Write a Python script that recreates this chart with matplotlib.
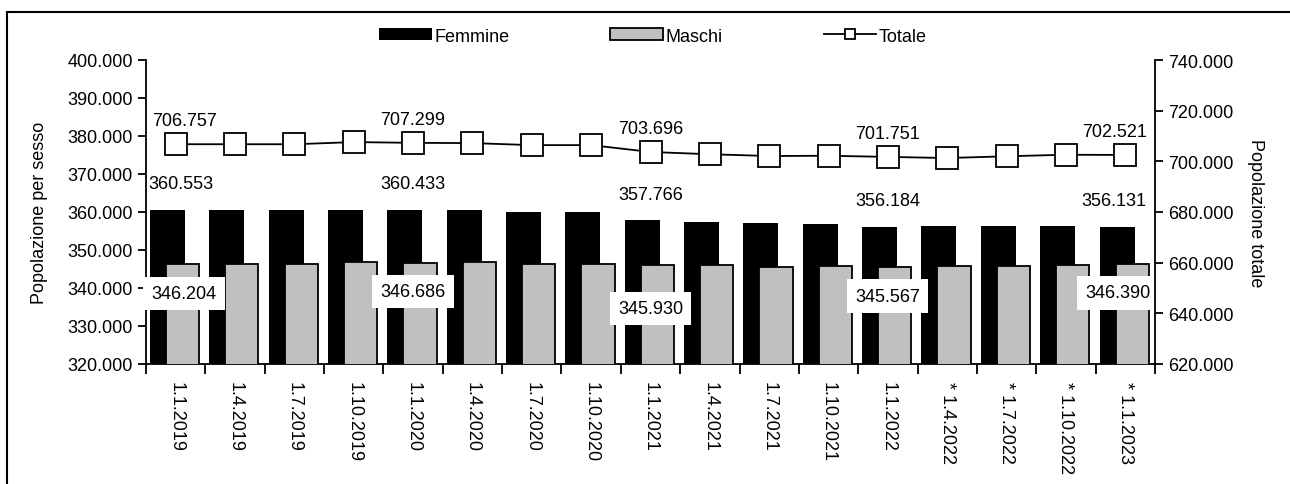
import numpy as np
import matplotlib
matplotlib.use("Agg")
import matplotlib.pyplot as plt
from matplotlib.ticker import FuncFormatter, MultipleLocator
from matplotlib.patches import Rectangle

plt.rcParams['font.family'] = ['Liberation Sans', 'DejaVu Sans']
plt.rcParams['font.size'] = 13

# dati
date = ["1.1.2019", "1.4.2019", "1.7.2019", "1.10.2019",
        "1.1.2020", "1.4.2020", "1.7.2020", "1.10.2020",
        "1.1.2021", "1.4.2021", "1.7.2021", "1.10.2021",
        "1.1.2022", "* 1.4.2022", "* 1.7.2022", "* 1.10.2022", "* 1.1.2023"]
femmine = [360553, 360550, 360540, 360530, 360433, 360500, 360100, 360100,
           357766, 357400, 357000, 356900, 356184, 356200, 356200, 356200, 356131]
maschi = [346204, 346200, 346200, 346800, 346686, 346750, 346300, 346200,
          345930, 345950, 345400, 345800, 345567, 345700, 345700, 346100, 346390]
totale = [706757, 706750, 706740, 707600, 707299, 707200, 706400, 706400,
          703696, 702800, 702100, 702200, 701751, 701300, 702000, 702600, 702521]
etichette = [0, 4, 8, 12, 16]  # punti con etichetta


def it_fmt(v, pos=None):
    return f"{v:,.0f}".replace(",", ".")


fig = plt.figure(figsize=(12.9, 4.85), dpi=100)
ax = fig.add_axes([146 / 1290, 1 - 365 / 485, (1155 - 146) / 1290, (365 - 61) / 485])
ax2 = ax.twinx()

n = len(date)
x = np.arange(n) + 0.5
ax.bar(x - 0.14, femmine, width=0.59, color="black", label="Femmine", zorder=2)
ax.bar(x + 0.115, maschi, width=0.56, color="#c0c0c0", edgecolor="black",
       linewidth=1.3, label="Maschi", zorder=3)
ax2.plot(x, totale, color="black", lw=1.3, marker="s", ms=16,
         mfc="white", mec="black", mew=1.3, label="Totale")

ax.set_ylim(320000, 400000)
ax.set_xlim(0, n)
ax2.set_ylim(620000, 740000)
ax.yaxis.set_major_locator(MultipleLocator(10000))
ax2.yaxis.set_major_locator(MultipleLocator(20000))
ax.yaxis.set_major_formatter(FuncFormatter(it_fmt))
ax2.yaxis.set_major_formatter(FuncFormatter(it_fmt))

ax.set_xticks(np.arange(n + 1))
ax.set_xticklabels([])
ax.set_xticks(x, minor=True)
ax.set_xticklabels(date, minor=True, rotation=270, va="top", ha="center")
ax.tick_params(axis="x", which="major", length=7, width=1.3, direction="out")
ax.tick_params(axis="x", which="minor", length=0, pad=12)
ax.tick_params(axis="y", length=6, width=1.3, direction="out")
ax2.tick_params(axis="y", length=6, width=1.3, direction="out")

for a in (ax, ax2):
    a.spines["top"].set_visible(False)
    for s in ("left", "right", "bottom"):
        a.spines[s].set_linewidth(1.3)
ax.spines["right"].set_visible(False)
ax2.spines["left"].set_visible(False)
ax2.spines["bottom"].set_visible(False)

ax.set_ylabel("Popolazione per sesso", labelpad=14)
ax2.set_ylabel("Popolazione totale", rotation=270, labelpad=22)


def lab(a, i, y, txt, dy, dx_first, dx_last, **kw):
    # le etichette agli estremi restano dentro l'area del grafico
    if i == 0:
        a.annotate(txt, (0, y), xytext=(dx_first, dy), textcoords="offset points",
                   ha="left", va="center", **kw)
    elif i == n - 1:
        a.annotate(txt, (n, y), xytext=(dx_last, dy), textcoords="offset points",
                   ha="right", va="center", **kw)
    else:
        a.annotate(txt, (x[i], y), xytext=(0, dy), textcoords="offset points",
                   ha="center", va="center", **kw)


box = dict(boxstyle="square,pad=0.45", fc="white", ec="none")
for i in etichette:
    lab(ax, i, femmine[i], it_fmt(femmine[i]), 19, 1.5, -6, zorder=5)
    lab(ax, i, maschi[i], it_fmt(maschi[i]), -31 if i == 8 else -21, 4, -3,
        zorder=6, bbox=box)
    lab(ax2, i, totale[i], it_fmt(totale[i]), 17, 4.5, -6)

h1, l1 = ax.get_legend_handles_labels()
h2, l2 = ax2.get_legend_handles_labels()
fig.legend(h1 + h2, l1 + l2, loc="center", bbox_to_anchor=(653 / 1290, 1 - 37 / 485),
           ncol=3, frameon=False, handlelength=2.9, handletextpad=0.15,
           columnspacing=5.6, borderpad=0, handleheight=0.6, markerscale=0.45)

# cornice
fig.patches.append(Rectangle((7 / 1290, -0.1), 1.1, 1 - 13 / 485 + 0.1,
                             transform=fig.transFigure, fill=False,
                             ec="black", lw=1.5, zorder=0))

fig.savefig("out.png", dpi=100)
